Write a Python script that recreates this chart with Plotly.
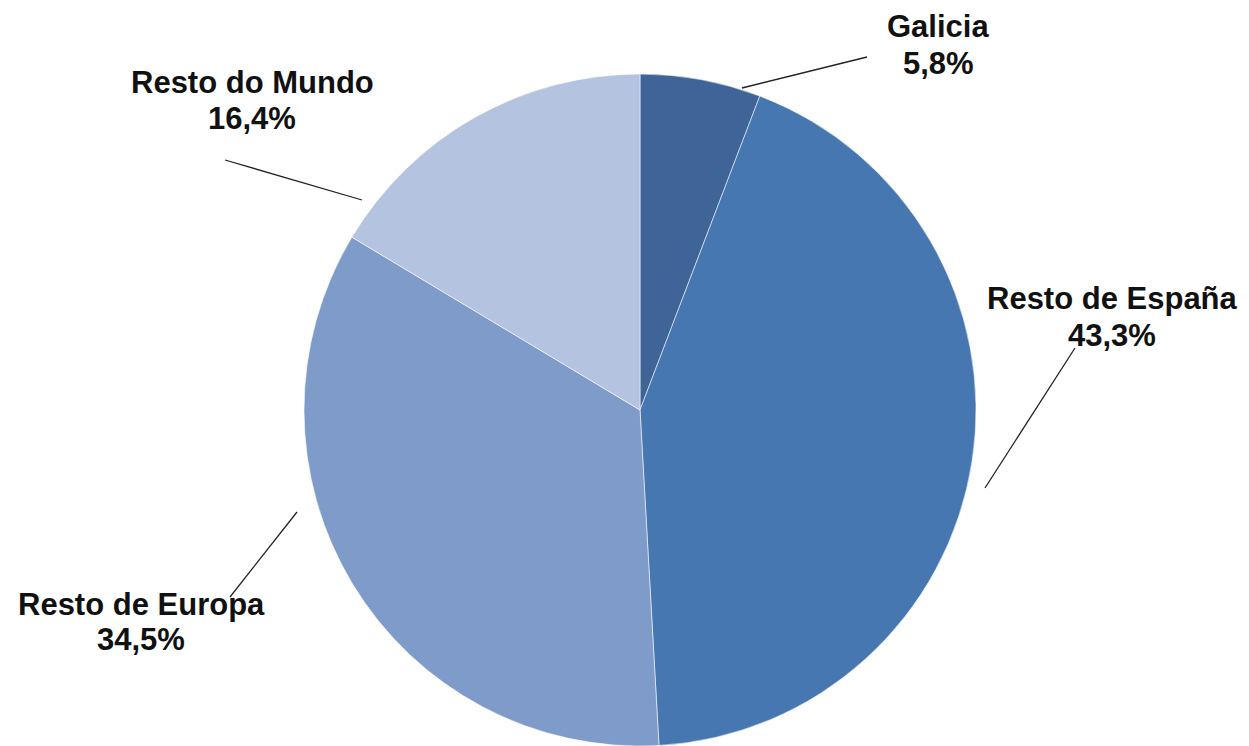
import plotly.graph_objects as go

# ---- data ----
categories = ["Galicia", "Resto de España", "Resto de Europa", "Resto do Mundo"]
shares = [5.8, 43.3, 34.5, 16.4]

# ---- style ----
colors = ["#3F6598", "#4777B0", "#7F9BC9", "#B4C3DF"]
PAGE_MARGIN = 8                    # default HTML body margin
W, H = 1249 - PAGE_MARGIN, 746 - PAGE_MARGIN
CX, CY, R = 640, 410, 336          # pie centre / radius in page pixels

# label line centres (page pixels): x, y of first line, y of second line
label_pos = [(938, 27, 64), (1112, 298, 335), (141, 604, 639), (252, 83, 119)]
leader = [((742, 88), (867, 57)),
          ((985, 488), (1075, 348)),
          ((297, 512), (230, 597)),
          ((362, 200), (225, 160))]


def px(x):
    return (x - PAGE_MARGIN) / W


def py(y):
    return 1 - (y - PAGE_MARGIN) / H


fig = go.Figure()
fig.add_trace(go.Pie(
    labels=categories,
    values=shares,
    sort=False,
    direction="clockwise",
    rotation=0,
    textinfo="none",
    hoverinfo="label+percent",
    marker=dict(colors=colors, line=dict(color="rgba(255,255,255,0.55)", width=1)),
    domain=dict(x=[px(CX - R), px(CX + R)], y=[max(0, py(CY + R)), py(CY - R)]),
    showlegend=False,
))

font = dict(family="Liberation Sans, Arial, sans-serif", size=31, color="#111111")
annotations = []
for cat, val, (lx, ly1, ly2) in zip(categories, shares, label_pos):
    pct = f"{val:.1f}%".replace(".", ",")
    for txt, ly in ((cat, ly1), (pct, ly2)):
        annotations.append(dict(
            x=px(lx), y=py(ly), xref="paper", yref="paper",
            text=f"<b>{txt}</b>", showarrow=False,
            xanchor="center", yanchor="middle", font=font,
        ))

shapes = []
for (x0, y0), (x1, y1) in leader:
    shapes.append(dict(type="line", xref="paper", yref="paper",
                       x0=px(x0), y0=py(y0), x1=px(x1), y1=py(y1),
                       line=dict(color="#222222", width=1.3)))

fig.update_layout(
    width=W, height=H,
    margin=dict(l=0, r=0, t=0, b=0),
    paper_bgcolor="white", plot_bgcolor="white",
    annotations=annotations, shapes=shapes,
)

fig.write_html("out.html")
